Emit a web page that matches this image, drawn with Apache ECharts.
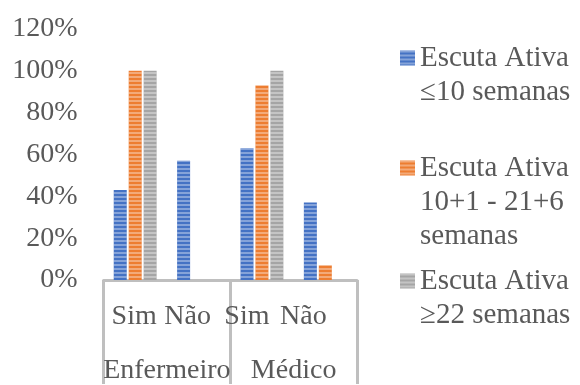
<!DOCTYPE html>
<html><head><meta charset="utf-8">
<script src="https://cdn.jsdelivr.net/npm/echarts@6/dist/echarts.min.js"></script>
<style>html,body{margin:0;padding:0;background:#fff}#c{width:580px;height:385px}</style>
</head><body><div id="c"></div>
<script>
const categories = ['Sim', 'Não', 'Sim', 'Não'];
const groups = ['Enfermeiro', 'Médico'];
const seriesNames = ['Escuta Ativa ≤10 semanas', 'Escuta Ativa 10+1 - 21+6 semanas', 'Escuta Ativa ≥22 semanas'];
const legendLabels = ['Escuta Ativa\n≤10 semanas', 'Escuta Ativa\n10+1 - 21+6\nsemanas', 'Escuta Ativa\n≥22 semanas'];
const valuesLe10 = [43, 57, 63, 37];
const values10to21 = [100, 0, 93, 7];
const valuesGe22 = [100, 0, 100, 0];
const yTicks = [0, 120, 20];

const colors = ['#4472C4', '#ED7D31', '#A5A5A5'];
const font = '"Liberation Serif", "Times New Roman", serif';
const txt = '#595959';
const FS = 28, LFS = 29, LH = 34;
const labelShift = [2, 22, 30, 44];

const chart = echarts.init(document.getElementById('c'));
const seriesData = [valuesLe10, values10to21, valuesGe22];
const legendTops = [7, 83, 230];
chart.setOption({
  animation: false,
  grid: {left: 103.5, right: 223, top: 29, bottom: 102, containLabel: false},
  legend: seriesNames.map((n, i) => {
    const lines = legendLabels[i].split('\n');
    const padded = new Array(lines.length - 1).fill(' ').join('\n') + '\n' + legendLabels[i];
    return {
      data: [n], orient: 'vertical', left: 400, top: legendTops[i], padding: 0,
      itemWidth: 15, itemHeight: 15, itemGap: 0, icon: 'rect',
      formatter: () => padded,
      textStyle: {fontFamily: font, fontSize: LFS, color: txt, lineHeight: LH}
    };
  }),
  xAxis: [{
    type: 'category', data: categories.map((c, i) => ({value: c, textStyle: {padding: [0, labelShift[i], 0, 0]}})),
    position: 'bottom',
    axisLine: {show: true, lineStyle: {color: '#BFBFBF', width: 3}},
    axisTick: {show: false},
    axisLabel: {interval: 0, fontFamily: font, fontSize: FS, color: txt, margin: 23}
  }, {
    type: 'category', data: groups, position: 'bottom', gridIndex: 0,
    axisLine: {show: false},
    axisTick: {show: true, length: 104, lineStyle: {color: '#BFBFBF', width: 3}},
    axisLabel: {interval: 0, fontFamily: font, fontSize: FS, color: txt, margin: 77}
  }],
  yAxis: {
    type: 'value', min: yTicks[0], max: yTicks[1], interval: yTicks[2],
    axisLine: {show: false}, axisTick: {show: false}, splitLine: {show: false},
    axisLabel: {formatter: '{value}%', fontFamily: font, fontSize: FS, color: txt, margin: 26}
  },
  series: seriesNames.map((n, i) => ({
    name: n, type: 'bar', xAxisIndex: 0, data: seriesData[i],
    barWidth: 13, barGap: '15%',
    itemStyle: {color: colors[i], decal: {symbol: 'rect', symbolSize: 1, dashArrayX: [1, 0], dashArrayY: [2, 2], color: 'rgba(255,255,255,0.35)'}}
  }))
});
</script></body></html>
